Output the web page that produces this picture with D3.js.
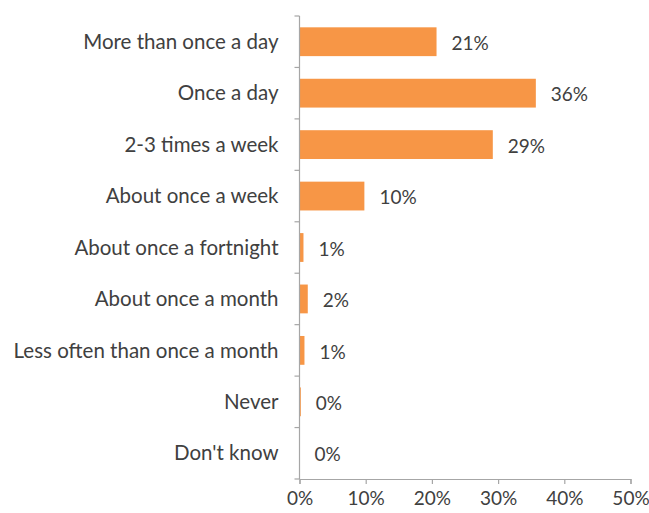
<!DOCTYPE html>
<html>
<head>
<meta charset="utf-8">
<script src="https://cdn.jsdelivr.net/npm/d3@7"></script>
<style>
  body { margin: 0; background: #fff; }
  svg { display: block; }
  text { font-family: Lato, "Open Sans", sans-serif; fill: #404040; }
</style>
</head>
<body>
<svg id="chart" width="649" height="513"></svg>
<script>
// Frequency of use, share of respondents
const categories = [
  "More than once a day",
  "Once a day",
  "2-3 times a week",
  "About once a week",
  "About once a fortnight",
  "About once a month",
  "Less often than once a month",
  "Never",
  "Don't know"
];
const values = [0.207, 0.357, 0.292, 0.098, 0.006, 0.0125, 0.0075, 0.002, 0];
const valueLabels = ["21%", "36%", "29%", "10%", "1%", "2%", "1%", "0%", "0%"];
const xTicks = [0, 0.1, 0.2, 0.3, 0.4, 0.5];

const svg = d3.select("#chart");
const margin = { left: 299.5, top: 16, right: 18.5, bottom: 34 };
const W = 649, H = 513;

const x = d3.scaleLinear().domain([0, 0.5]).range([margin.left, W - margin.right]);
const y = d3.scaleBand().domain(categories).range([margin.top, H - margin.bottom])
  .paddingInner(0.44).paddingOuter(0.22);

const axisColor = "#a6a6a6";

// bars
svg.append("g").selectAll("rect").data(values).join("rect")
  .attr("x", x(0))
  .attr("y", (d, i) => y(categories[i]))
  .attr("width", d => x(d) - x(0))
  .attr("height", y.bandwidth())
  .attr("fill", "#F79646");

// value labels
svg.append("g").selectAll("text").data(values).join("text")
  .attr("x", d => x(d) + 15)
  .attr("y", (d, i) => y(categories[i]) + y.bandwidth() / 2 + 1.5)
  .attr("dy", "0.35em")
  .attr("font-size", 19)
  .text((d, i) => valueLabels[i]);

// category axis: line + ticks between bands
const yAxis = svg.append("g");
yAxis.append("line")
  .attr("x1", x(0)).attr("x2", x(0))
  .attr("y1", margin.top).attr("y2", H - margin.bottom)
  .attr("stroke", axisColor).attr("stroke-width", 1.2);
const bounds = d3.range(categories.length + 1).map(i => margin.top + i * (H - margin.bottom - margin.top) / categories.length);
yAxis.selectAll("line.tick").data(bounds).join("line")
  .attr("class", "tick")
  .attr("x1", x(0) - 5).attr("x2", x(0))
  .attr("y1", d => d).attr("y2", d => d)
  .attr("stroke", axisColor).attr("stroke-width", 1.2);
yAxis.selectAll("text").data(categories).join("text")
  .attr("x", x(0) - 21)
  .attr("y", d => y(d) + y.bandwidth() / 2)
  .attr("dy", "0.35em")
  .attr("text-anchor", "end")
  .attr("font-size", 20.5)
  .text(d => d);

// value axis
const xAxis = svg.append("g").attr("transform", `translate(0,${H - margin.bottom})`)
  .call(d3.axisBottom(x).tickValues(xTicks).tickFormat(d3.format(".0%")).tickSize(5).tickPadding(7.5));
xAxis.select(".domain").attr("stroke", axisColor).attr("stroke-width", 1.2);
xAxis.selectAll(".tick line").attr("stroke", axisColor).attr("stroke-width", 1.2);
xAxis.selectAll(".tick text").attr("font-size", 19).attr("font-family", "Lato, 'Open Sans', sans-serif").attr("fill", "#404040");
</script>
</body>
</html>
